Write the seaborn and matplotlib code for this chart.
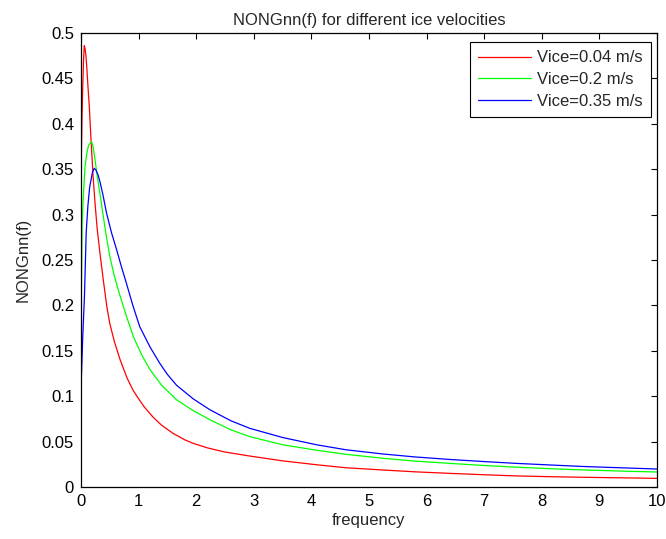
import numpy as np
import pandas as pd
import matplotlib
matplotlib.use("Agg")
import matplotlib.pyplot as plt
import seaborn as sns
from matplotlib.ticker import FuncFormatter

# ---- data ----
f_red = [0.0, 0.003, 0.015, 0.03, 0.045, 0.057, 0.07, 0.085, 0.1, 0.12, 0.144, 0.165, 0.185,
         0.21, 0.243, 0.28, 0.33, 0.387, 0.45, 0.5, 0.58, 0.68, 0.8, 0.9, 0.97, 1.1, 1.25,
         1.4, 1.6, 1.8, 1.95, 2.2, 2.5, 2.93, 3.5, 4.09, 4.6, 5.25, 5.8, 6.41, 7.0, 7.56,
         8.2, 8.72, 9.4, 10.0]
v_red = [0.08, 0.35, 0.40, 0.44, 0.472, 0.486, 0.483, 0.475, 0.463, 0.442, 0.419, 0.393, 0.37,
         0.342, 0.313, 0.285, 0.257, 0.228, 0.198, 0.180, 0.160, 0.140, 0.120, 0.107, 0.100,
         0.088, 0.077, 0.068, 0.059, 0.052, 0.048, 0.043, 0.0385, 0.0341, 0.0288, 0.0245,
         0.0212, 0.0187, 0.0167, 0.015, 0.0135, 0.0122, 0.0113, 0.0107, 0.0101, 0.0095]

f_green = [0.0, 0.004, 0.02, 0.04, 0.07, 0.1, 0.13, 0.16, 0.185, 0.21, 0.24, 0.27, 0.3, 0.36,
           0.43, 0.5, 0.58, 0.68, 0.8, 0.91, 1.05, 1.2, 1.4, 1.66, 1.95, 2.24, 2.6, 2.93, 3.5,
           4.09, 4.6, 5.25, 5.8, 6.41, 7.0, 7.56, 8.2, 8.72, 9.4, 10.0]
v_green = [0.057, 0.2, 0.29, 0.32, 0.353, 0.367, 0.376, 0.379, 0.38, 0.375, 0.362, 0.348, 0.335,
           0.31, 0.28, 0.254, 0.232, 0.21, 0.186, 0.1655, 0.146, 0.129, 0.112, 0.096, 0.084,
           0.074, 0.063, 0.0555, 0.0465, 0.0405, 0.036, 0.0316, 0.0285, 0.026, 0.0237, 0.0218,
           0.0200, 0.0188, 0.0175, 0.0165]

f_blue = [0.0, 0.004, 0.03, 0.06, 0.09, 0.12, 0.15, 0.2, 0.23, 0.26, 0.3, 0.33, 0.38, 0.446,
          0.53, 0.62, 0.7, 0.79, 0.9, 1.02, 1.2, 1.37, 1.5, 1.66, 1.95, 2.24, 2.6, 2.93, 3.5,
          4.09, 4.6, 5.25, 5.8, 6.41, 7.0, 7.56, 8.2, 8.72, 9.4, 10.0]
v_blue = [0.0, 0.115, 0.165, 0.21, 0.28, 0.31, 0.33, 0.347, 0.351, 0.349, 0.343, 0.336, 0.322,
          0.301, 0.28, 0.261, 0.243, 0.224, 0.200, 0.1765, 0.154, 0.136, 0.124, 0.112, 0.097,
          0.085, 0.073, 0.0646, 0.0545, 0.0465, 0.041, 0.0363, 0.0331, 0.0303, 0.028, 0.026,
          0.0241, 0.0226, 0.0211, 0.0198]

labels = ["Vice=0.04 m/s", "Vice=0.2 m/s", "Vice=0.35 m/s"]
colors = ["#ff0000", "#00ff00", "#0000ff"]

x_ticks = list(range(0, 11))
y_ticks = [0, 0.05, 0.1, 0.15, 0.2, 0.25, 0.3, 0.35, 0.4, 0.45, 0.5]

df = pd.concat([
    pd.DataFrame({"frequency": f_red, "value": v_red, "series": labels[0]}),
    pd.DataFrame({"frequency": f_green, "value": v_green, "series": labels[1]}),
    pd.DataFrame({"frequency": f_blue, "value": v_blue, "series": labels[2]}),
], ignore_index=True)

sns.set_style("white")
plt.rcParams["font.family"] = ["Liberation Sans", "DejaVu Sans"]
FS = 12
plt.rcParams["font.size"] = FS

fig = plt.figure(figsize=(6.66, 5.39), dpi=100)
ax = fig.add_axes([81/666, 1 - 487/539, 576/666, 454/539])

sns.lineplot(data=df, x="frequency", y="value", hue="series", palette=colors,
             estimator=None, sort=False, linewidth=0.9, ax=ax)

ax.set_xlim(0, 10)
ax.set_ylim(0, 0.5)
ax.set_xticks(x_ticks)
ax.set_yticks(y_ticks)
ax.yaxis.set_major_formatter(FuncFormatter(lambda v, p: f"{v:g}"))
ax.tick_params(direction="in", length=4, width=0.8, top=True, right=True,
               labelsize=FS, colors="black", pad=5)
for s in ax.spines.values():
    s.set_visible(True)
    s.set_color("black")
    s.set_linewidth(0.9)

ax.set_xlabel("frequency", fontsize=FS, labelpad=3)
ax.set_ylabel("NONGnn(f)", fontsize=FS, labelpad=8)
ax.set_title("NONGnn(f) for different ice velocities", fontsize=FS, pad=6)

leg = ax.legend(loc="upper right", bbox_to_anchor=((651 - 81) / 576, (487 - 42) / 454),
                bbox_transform=ax.transAxes, borderaxespad=0,
                fontsize=FS, frameon=True, fancybox=False, framealpha=1,
                edgecolor="black", handlelength=3.2, handletextpad=0.35,
                labelspacing=0.4, borderpad=0.5, title=None)
leg.get_frame().set_linewidth(0.8)

fig.savefig("out.png", dpi=100)
